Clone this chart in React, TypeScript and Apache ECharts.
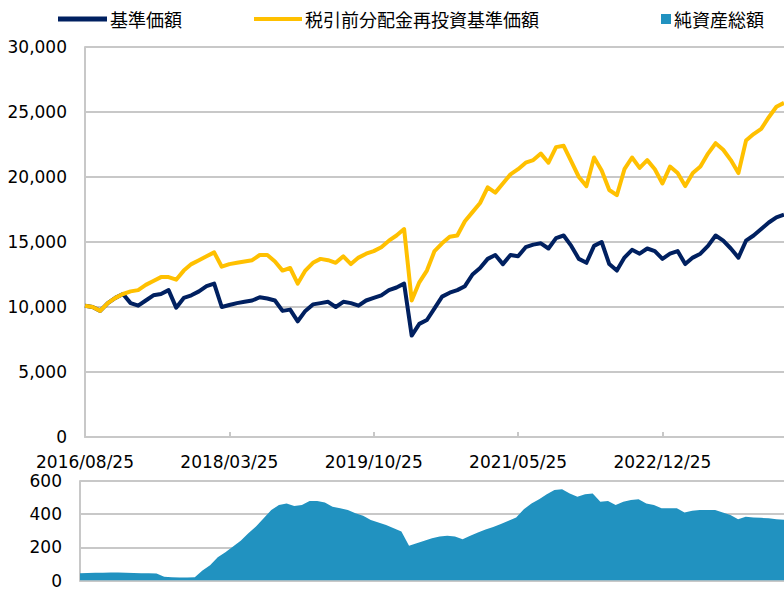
import React, { useEffect, useRef } from "react";
import * as echarts from "echarts";

const dates = [
  "2016/08/25","2016/09/25","2016/10/25","2016/11/25","2016/12/25",
  "2017/01/25","2017/02/25","2017/03/25","2017/04/25","2017/05/25","2017/06/25","2017/07/25","2017/08/25","2017/09/25","2017/10/25","2017/11/25","2017/12/25",
  "2018/01/25","2018/02/25","2018/03/25","2018/04/25","2018/05/25","2018/06/25","2018/07/25","2018/08/25","2018/09/25","2018/10/25","2018/11/25","2018/12/25",
  "2019/01/25","2019/02/25","2019/03/25","2019/04/25","2019/05/25","2019/06/25","2019/07/25","2019/08/25","2019/09/25","2019/10/25","2019/11/25","2019/12/25",
  "2020/01/25","2020/02/25","2020/03/25","2020/04/25","2020/05/25","2020/06/25","2020/07/25","2020/08/25","2020/09/25","2020/10/25","2020/11/25","2020/12/25",
  "2021/01/25","2021/02/25","2021/03/25","2021/04/25","2021/05/25","2021/06/25","2021/07/25","2021/08/25","2021/09/25","2021/10/25","2021/11/25","2021/12/25",
  "2022/01/25","2022/02/25","2022/03/25","2022/04/25","2022/05/25","2022/06/25","2022/07/25","2022/08/25","2022/09/25","2022/10/25","2022/11/25","2022/12/25",
  "2023/01/25","2023/02/25","2023/03/25","2023/04/25","2023/05/25","2023/06/25","2023/07/25","2023/08/25","2023/09/25","2023/10/25","2023/11/25","2023/12/25",
  "2024/01/25","2024/02/25","2024/03/25","2024/04/25",
];

const navValues = [
  10100, 10000, 9700, 10300, 10700, 11000, 10300, 10100, 10500, 10900,
  11000, 11300, 9950, 10700, 10900, 11200, 11600, 11800, 10000, 10150,
  10300, 10400, 10500, 10750, 10650, 10500, 9700, 9800, 8900, 9700,
  10200, 10300, 10400, 10000, 10400, 10300, 10100, 10500, 10700, 10900,
  11300, 11500, 11800, 7800, 8700, 9000, 9900, 10800, 11100, 11300,
  11600, 12500, 13000, 13700, 14000, 13300, 14000, 13900, 14600, 14800,
  14900, 14500, 15300, 15500, 14700, 13700, 13400, 14700, 15000, 13300,
  12800, 13800, 14400, 14100, 14500, 14300, 13700, 14100, 14300, 13300,
  13800, 14100, 14700, 15500, 15100, 14500, 13800, 15100, 15500, 16000,
  16500, 16900, 17100,
];

const reinvestedValues = [
  10100, 10000, 9700, 10300, 10700, 11000, 11200, 11300, 11700, 12000,
  12300, 12300, 12100, 12800, 13300, 13600, 13900, 14200, 13100, 13300,
  13400, 13500, 13600, 14000, 14000, 13500, 12800, 13000, 11800, 12800,
  13400, 13700, 13600, 13400, 13900, 13300, 13800, 14100, 14300, 14600,
  15100, 15500, 16000, 10500, 11900, 12800, 14300, 14900, 15400, 15500,
  16600, 17300, 18000, 19200, 18800, 19500, 20200, 20600, 21100, 21300,
  21800, 21100, 22300, 22400, 21200, 20000, 19300, 21500, 20500, 19000,
  18600, 20600, 21500, 20700, 21300, 20600, 19500, 20800, 20300, 19300,
  20300, 20800, 21800, 22600, 22100, 21300, 20300, 22800, 23300, 23700,
  24600, 25400, 25700,
];

const netAssets = [
  44, 45, 46, 47, 48, 48, 46, 45, 44, 44,
  42, 22, 19, 18, 18, 20, 60, 92, 140, 170,
  205, 240, 285, 325, 375, 425, 455, 465, 450, 455,
  480, 480, 470, 445, 435, 425, 405, 390, 365, 350,
  335, 315, 295, 210, 225, 240, 255, 265, 270, 265,
  248, 270, 290, 308, 322, 340, 360, 380, 430, 465,
  490, 520, 545, 550, 525, 505, 520, 525, 475, 480,
  455, 475, 485, 490, 465, 455, 435, 435, 435, 410,
  420, 425, 425, 425, 410, 395, 370, 385, 380, 378,
  375, 370, 367,
];

const topTicks = [0, 5000, 10000, 15000, 20000, 25000, 30000];
const bottomTicks = [0, 200, 400, 600];

const NAVY = "#002060";
const YELLOW = "#FFC000";
const AREA = "#2192C0";
const GRID = "#c8c8c8";
const LABEL_FONT = "DejaVu Sans";
const CJK_FONT = "Noto Sans CJK JP";

export default function App() {
  const ref = useRef<HTMLDivElement>(null);

  useEffect(() => {
    if (!ref.current) return;
    document.body.style.margin = "0";
    const chart = echarts.init(ref.current, undefined, { renderer: "svg", width: 784, height: 589 });
    const legendText = { fontFamily: CJK_FONT, fontSize: 18, color: "#000" };
    chart.setOption({
      animation: false,
      backgroundColor: "#fff",
      legend: [
        {
          data: [{ name: "基準価額", icon: "rect" }],
          left: 53, top: 5, itemWidth: 49, itemHeight: 5, itemGap: 0,
          textStyle: { ...legendText, padding: [0, 0, 0, -2] },
          selectedMode: false,
        },
        {
          data: [{ name: "税引前分配金再投資基準価額", icon: "rect" }],
          left: 249, top: 5, itemWidth: 48, itemHeight: 4, itemGap: 0,
          textStyle: { ...legendText, padding: [0, 0, 0, -2] },
          selectedMode: false,
        },
        {
          data: [{ name: "純資産総額", icon: "rect" }],
          left: 656, top: 5, itemWidth: 10, itemHeight: 10, itemGap: 0,
          textStyle: { ...legendText, padding: [0, 0, 0, -2] },
          selectedMode: false,
        },
      ],
      grid: [
        { left: 85, top: 47, width: 702, height: 390 },
        { left: 80, top: 481, width: 707, height: 105 },
      ],
      xAxis: [
        {
          type: "category",
          gridIndex: 0,
          data: dates,
          boundaryGap: false,
          axisLine: { lineStyle: { color: GRID, width: 2 } },
          axisTick: { show: true, inside: true, length: 5, interval: 18, lineStyle: { color: GRID, width: 2 } },
          axisLabel: { interval: 18, margin: 16, fontFamily: LABEL_FONT, fontSize: 17, color: "#000" },
          splitLine: { show: false },
        },
        {
          type: "category",
          gridIndex: 1,
          data: dates,
          boundaryGap: false,
          axisLine: { lineStyle: { color: GRID, width: 2 } },
          axisTick: { show: false },
          axisLabel: { show: false },
          splitLine: { show: false },
        },
      ],
      yAxis: [
        {
          type: "value",
          gridIndex: 0,
          min: topTicks[0],
          max: topTicks[topTicks.length - 1],
          interval: 5000,
          axisLine: { show: true, lineStyle: { color: GRID, width: 2 } },
          axisTick: { show: false },
          axisLabel: {
            margin: 18,
            fontFamily: LABEL_FONT,
            fontSize: 17,
            color: "#000",
            formatter: (v: number) => v.toLocaleString("en-US"),
          },
          splitLine: { lineStyle: { color: GRID, width: 2 } },
        },
        {
          type: "value",
          gridIndex: 1,
          min: bottomTicks[0],
          max: bottomTicks[bottomTicks.length - 1],
          interval: 200,
          axisLine: { show: true, lineStyle: { color: GRID, width: 2 } },
          axisTick: { show: false },
          axisLabel: { margin: 18, fontFamily: LABEL_FONT, fontSize: 17, color: "#000" },
          splitLine: { lineStyle: { color: GRID, width: 2 } },
        },
      ],
      series: [
        {
          name: "基準価額",
          type: "line",
          xAxisIndex: 0,
          yAxisIndex: 0,
          data: navValues,
          showSymbol: false,
          color: NAVY,
          lineStyle: { color: NAVY, width: 4, join: "round" },
          z: 3,
        },
        {
          name: "税引前分配金再投資基準価額",
          type: "line",
          xAxisIndex: 0,
          yAxisIndex: 0,
          data: reinvestedValues,
          showSymbol: false,
          color: YELLOW,
          lineStyle: { color: YELLOW, width: 4, join: "round" },
          z: 4,
        },
        {
          name: "純資産総額",
          type: "line",
          xAxisIndex: 1,
          yAxisIndex: 1,
          data: netAssets,
          showSymbol: false,
          color: AREA,
          lineStyle: { width: 0 },
          areaStyle: { color: AREA, opacity: 1 },
          z: 3,
        },
      ],
    });
    return () => chart.dispose();
  }, []);

  return (
    <div
      ref={ref}
      style={{ position: "absolute", left: 0, top: 0, width: 784, height: 589, overflow: "hidden" }}
    />
  );
}
